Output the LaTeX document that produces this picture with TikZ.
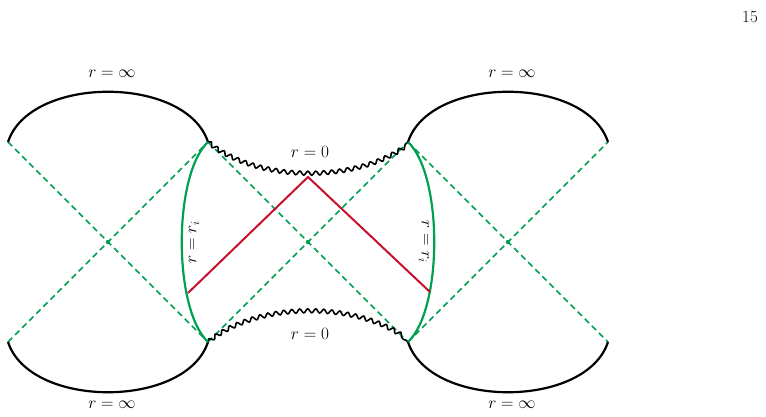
\documentclass[tikz,border=0pt]{standalone}
\usetikzlibrary{decorations.pathmorphing}
\definecolor{grn}{RGB}{0,160,80}
\definecolor{rd}{RGB}{200,16,46}
\begin{document}
\begin{tikzpicture}[x=1pt,y=-1pt,
  dline/.style={grn,line width=1.5pt,dash pattern=on 6pt off 4pt},
  bnd/.style={black,line width=2.2pt},
  wav/.style={black,line width=1.6pt,decorate,decoration={snake,segment length=8pt,amplitude=2pt}},
  hor/.style={grn,line width=2.2pt},
  ray/.style={rd,line width=2pt},
  lab/.style={inner sep=1pt,font=\fontsize{17}{20}\selectfont}]
\useasboundingbox (0,0) rectangle (766,417);
\coordinate (A1) at (8,142); \coordinate (A2) at (208,142); \coordinate (A3) at (408,142); \coordinate (A4) at (608,142);
\coordinate (B1) at (8,342); \coordinate (B2) at (208,342); \coordinate (B3) at (408,342); \coordinate (B4) at (608,342);
\coordinate (T) at (308,177); \coordinate (L) at (188,293); \coordinate (R) at (430,292);
% dashed
\draw[dline] (A1) -- (B2); \draw[dline] (B1) -- (A2);
\draw[dline] (A2) -- (B3); \draw[dline] (B2) -- (A3);
\draw[dline] (A3) -- (B4); \draw[dline] (B3) -- (A4);
% boundaries
\draw[bnd] (A1) .. controls (30,75) and (186,75) .. (A2);
\draw[bnd] (B1) .. controls (30,409) and (186,409) .. (B2);
\draw[bnd] (A3) .. controls (430,75) and (586,75) .. (A4);
\draw[bnd] (B3) .. controls (430,409) and (586,409) .. (B4);
\draw[wav] (A2) .. controls (258,182) and (358,182) .. (A3);
\draw[wav] (B2) .. controls (258,302) and (358,302) .. (B3);
% horizons
\draw[hor] (A2) .. controls (173,175) and (173,309) .. (B2);
\draw[hor] (A3) .. controls (443,175) and (443,309) .. (B3);
% rays
\draw[ray] (L) -- (T) -- (R);
% centres
\foreach \p in {(108,242),(308,242),(508,242)} \fill[grn] \p circle (2.2pt);
% labels
\node[lab] (l1) at (112,74) {$r=\infty$};
\node[lab] (l2) at (512,74) {$r=\infty$};
\node[lab] (l3) at (112,405) {$r=\infty$};
\node[lab] (l4) at (512,405) {$r=\infty$};
\node[lab] (l5) at (310,152) {$r=0$};
\node[lab] (l6) at (310,334) {$r=0$};
\node[lab,rotate=90] (l7) at (194,242) {$r=r_i$};
\node[lab,rotate=-90] (l8) at (424,242) {$r=r_i$};
\node[lab] (pg) at (750,17) {15};
\end{tikzpicture}
\end{document}
